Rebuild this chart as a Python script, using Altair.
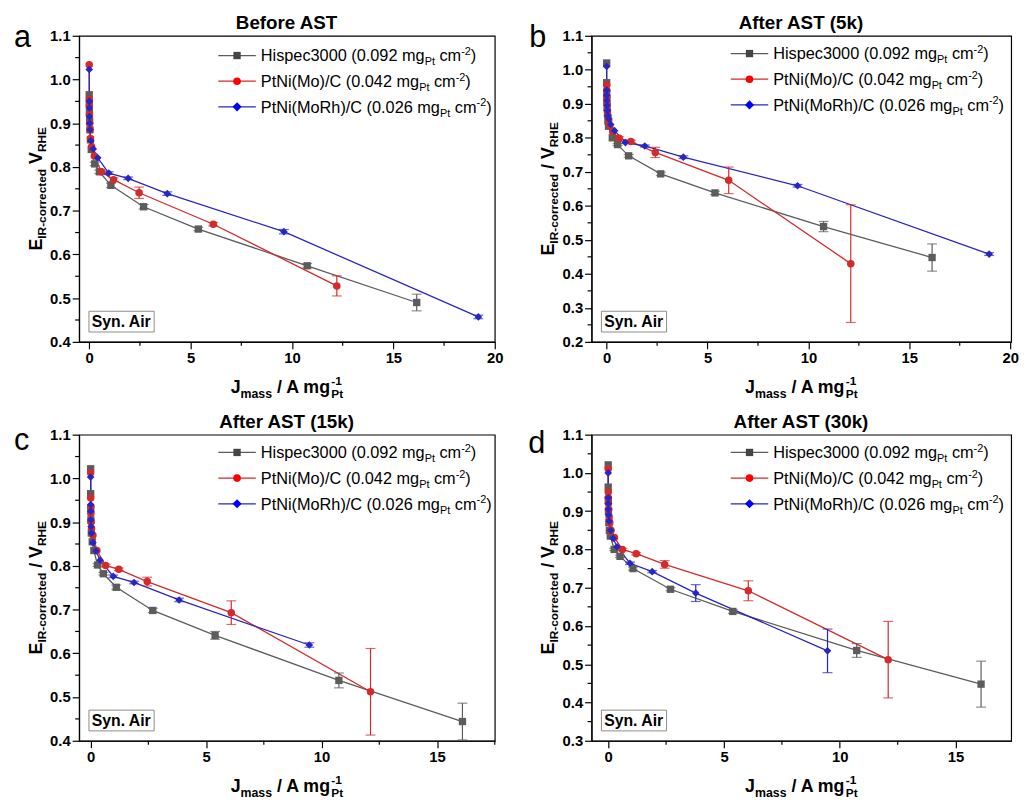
import altair as alt
import pandas as pd

FONT = "Liberation Sans"

# ---------------- data ----------------
SERIES = ["Hispec3000", "PtNi(Mo)/C", "PtNi(MoRh)/C"]
LOADINGS = ["0.092", "0.042", "0.026"]
MARKER_COLORS = ["#454545", "#ff0000", "#0000ff"]
LINE_COLORS = ["#5c5c5c", "#d42a2a", "#2626c4"]
ERR_COLORS = ["#4a4a4a", "#c83c3c", "#3c3cc8"]
SHAPES = ["square", "circle", "diamond"]
SIZES = [55, 60, 85]

PANEL_LETTERS = ["a", "b", "c", "d"]
PANEL_TITLES = ["Before AST", "After AST (5k)", "After AST (15k)", "After AST (30k)"]
Y_DOMAINS = [[0.4, 1.1], [0.2, 1.1], [0.4, 1.1], [0.3, 1.1]]
X_DOMAINS = [[-0.5, 20.0], [-0.75, 20.05], [-0.5, 17.5], [-0.72, 17.4]]
X_TICKS = [[0, 5, 10, 15, 20], [0, 5, 10, 15, 20], [0, 5, 10, 15], [0, 5, 10, 15]]
X_MINOR = [[2.5, 7.5, 12.5, 17.5], [2.5, 7.5, 12.5, 17.5], [2.5, 7.5, 12.5, 17.5], [2.5, 7.5, 12.5]]

# Panel a: Before AST
A_HIS_X = [0.0, 0.005, 0.01, 0.02, 0.035, 0.06, 0.1, 0.27, 0.5, 1.07, 2.68, 5.38, 10.75, 16.15]
A_HIS_Y = [0.965, 0.945, 0.925, 0.905, 0.885, 0.862, 0.840, 0.807, 0.789, 0.758, 0.709, 0.658, 0.574, 0.490]
A_HIS_E = [0, 0, 0, 0, 0, 0, 0, 0.004, 0.004, 0.005, 0.005, 0.004, 0.005, 0.019]
A_MO_X = [0.0, 0.003, 0.006, 0.01, 0.02, 0.035, 0.06, 0.12, 0.25, 0.6, 1.2, 2.46, 6.12, 12.21]
A_MO_Y = [1.034, 0.955, 0.94, 0.92, 0.90, 0.885, 0.865, 0.846, 0.825, 0.789, 0.771, 0.741, 0.669, 0.528]
A_MO_E = [0, 0, 0, 0, 0, 0, 0, 0, 0, 0.004, 0.004, 0.013, 0.004, 0.023]
A_RH_X = [0.0, 0.003, 0.006, 0.01, 0.02, 0.04, 0.08, 0.2, 0.42, 0.96, 1.92, 3.85, 9.6, 19.19]
A_RH_Y = [1.023, 0.95, 0.935, 0.915, 0.90, 0.885, 0.86, 0.841, 0.821, 0.786, 0.774, 0.739, 0.652, 0.457]
A_RH_E = [0, 0, 0, 0, 0, 0, 0, 0, 0, 0.003, 0.003, 0.004, 0.005, 0.004]

# Panel b: After AST (5k)
B_HIS_X = [0.0, 0.0, 0.005, 0.01, 0.02, 0.04, 0.06, 0.09, 0.28, 0.54, 1.09, 2.68, 5.37, 10.75, 16.13]
B_HIS_Y = [1.02, 0.962, 0.93, 0.91, 0.89, 0.87, 0.85, 0.834, 0.80, 0.780, 0.747, 0.694, 0.638, 0.539, 0.448]
B_HIS_E = [0, 0, 0, 0, 0, 0, 0, 0, 0, 0.003, 0.004, 0.005, 0.005, 0.015, 0.04]
B_MO_X = [0.0, 0.005, 0.01, 0.02, 0.035, 0.06, 0.1, 0.16, 0.3, 0.62, 1.2, 2.41, 6.05, 12.1]
B_MO_Y = [0.955, 0.94, 0.92, 0.90, 0.88, 0.865, 0.85, 0.835, 0.818, 0.799, 0.789, 0.757, 0.675, 0.43]
B_MO_E = [0, 0, 0, 0, 0, 0, 0, 0, 0, 0.004, 0.004, 0.015, 0.039, 0.173]
B_RH_X = [0.0, 0.003, 0.006, 0.01, 0.02, 0.035, 0.06, 0.11, 0.2, 0.39, 0.93, 1.89, 3.8, 9.46, 18.96]
B_RH_Y = [1.01, 0.94, 0.925, 0.91, 0.895, 0.88, 0.865, 0.856, 0.839, 0.821, 0.786, 0.776, 0.743, 0.659, 0.458]
B_RH_E = [0, 0, 0, 0, 0, 0, 0, 0, 0, 0, 0.003, 0.003, 0.004, 0.004, 0.004]

# Panel c: After AST (15k)
C_HIS_X = [0.0, 0.0, 0.005, 0.01, 0.03, 0.07, 0.14, 0.3, 0.55, 1.11, 2.69, 5.39, 10.75, 16.1]
C_HIS_Y = [1.022, 0.965, 0.93, 0.905, 0.875, 0.855, 0.835, 0.802, 0.782, 0.751, 0.698, 0.641, 0.538, 0.444]
C_HIS_E = [0, 0, 0, 0, 0, 0, 0, 0.003, 0.003, 0.005, 0.005, 0.009, 0.017, 0.042]
C_MO_X = [0.0, 0.003, 0.006, 0.01, 0.02, 0.04, 0.1, 0.27, 0.65, 1.22, 2.45, 6.09, 12.12]
C_MO_Y = [1.013, 0.955, 0.935, 0.92, 0.90, 0.885, 0.87, 0.835, 0.801, 0.792, 0.764, 0.693, 0.512]
C_MO_E = [0, 0, 0, 0, 0, 0, 0, 0, 0.003, 0.003, 0.01, 0.027, 0.099]
C_RH_X = [0.0, 0.003, 0.006, 0.01, 0.02, 0.04, 0.1, 0.23, 0.41, 0.98, 1.88, 3.83, 9.47]
C_RH_Y = [1.003, 0.94, 0.925, 0.905, 0.89, 0.875, 0.853, 0.834, 0.813, 0.776, 0.762, 0.722, 0.619]
C_RH_E = [0, 0, 0, 0, 0, 0, 0, 0, 0, 0.003, 0.003, 0.004, 0.005]

# Panel d: After AST (30k)
D_HIS_X = [0.0, 0.0, 0.005, 0.01, 0.03, 0.05, 0.09, 0.26, 0.51, 1.07, 2.69, 5.38, 10.73, 16.1]
D_HIS_Y = [1.021, 0.963, 0.93, 0.90, 0.87, 0.85, 0.835, 0.80, 0.782, 0.750, 0.696, 0.638, 0.536, 0.448]
D_HIS_E = [0, 0, 0, 0, 0, 0, 0, 0.003, 0.003, 0.004, 0.004, 0.005, 0.018, 0.06]
D_MO_X = [0.0, 0.003, 0.006, 0.01, 0.02, 0.04, 0.07, 0.12, 0.27, 0.61, 1.21, 2.44, 6.05, 12.09]
D_MO_Y = [1.01, 0.95, 0.935, 0.92, 0.905, 0.885, 0.87, 0.85, 0.831, 0.80, 0.789, 0.761, 0.692, 0.512]
D_MO_E = [0, 0, 0, 0, 0, 0, 0, 0, 0, 0.003, 0.003, 0.01, 0.026, 0.1]
D_RH_X = [0.0, 0.003, 0.006, 0.01, 0.02, 0.04, 0.11, 0.21, 0.38, 0.94, 1.9, 3.78, 9.47]
D_RH_Y = [1.0, 0.935, 0.92, 0.905, 0.89, 0.874, 0.85, 0.829, 0.807, 0.764, 0.742, 0.686, 0.535]
D_RH_E = [0, 0, 0, 0, 0, 0, 0, 0, 0, 0.003, 0.003, 0.022, 0.057]

PANEL_DATA = [
    [(A_HIS_X, A_HIS_Y, A_HIS_E), (A_MO_X, A_MO_Y, A_MO_E), (A_RH_X, A_RH_Y, A_RH_E)],
    [(B_HIS_X, B_HIS_Y, B_HIS_E), (B_MO_X, B_MO_Y, B_MO_E), (B_RH_X, B_RH_Y, B_RH_E)],
    [(C_HIS_X, C_HIS_Y, C_HIS_E), (C_MO_X, C_MO_Y, C_MO_E), (C_RH_X, C_RH_Y, C_RH_E)],
    [(D_HIS_X, D_HIS_Y, D_HIS_E), (D_MO_X, D_MO_Y, D_MO_E), (D_RH_X, D_RH_Y, D_RH_E)],
]

# ---------------- text metrics (Arial / Liberation Sans, 1/1000 em) ----------------
REG_W = {' ': 278, '(': 333, ')': 333, '-': 333, '.': 278, '/': 278, 'A': 667, 'C': 722, 'H': 722,
         'M': 833, 'N': 722, 'P': 667, 'R': 722, 'a': 556, 'b': 556, 'c': 500, 'd': 556, 'e': 556,
         'g': 556, 'h': 556, 'i': 222, 'm': 833, 'n': 556, 'o': 556, 'p': 556, 'r': 333, 's': 500, 't': 278}
BOLD_W = {' ': 278, '(': 333, ')': 333, '-': 333, '.': 278, '/': 278, 'A': 722, 'B': 722, 'E': 667,
          'H': 722, 'I': 278, 'J': 556, 'P': 667, 'R': 722, 'S': 667, 'T': 611, 'V': 667, 'a': 556,
          'c': 556, 'd': 611, 'e': 556, 'f': 333, 'g': 611, 'i': 278, 'k': 556, 'm': 889, 'n': 611,
          'o': 611, 'r': 389, 's': 556, 't': 333, 'y': 556}


def tw(t, size, bold):
    table = BOLD_W if bold else REG_W
    return sum(table.get(ch, 556) for ch in t) / 1000.0 * size


def rich(pieces, bold):
    """Lay out rich-text pieces; returns list of (text, size, along, shift) and total length."""
    out = []
    adv = 0.0
    for p in pieces:
        group = p[1] if p[0] == "STACK" else [p]
        widths = []
        for t, s, d in group:
            lead = len(t) - len(t.lstrip(" "))
            out.append((t.strip(" "), s, adv + tw(t[:lead], s, bold), d))
            widths.append(tw(t, s, bold))
        adv += max(widths)
    return out, adv


def panel(k, w, h):
    # ---- data table ----
    rows = []
    for s, (xs, ys, es) in enumerate(PANEL_DATA[k]):
        for i, (x, y, e) in enumerate(zip(xs, ys, es)):
            rows.append(dict(series=SERIES[s], x=x, y=y, e=e, lo=y - e, hi=y + e, i=i))
    df = pd.DataFrame(rows)

    xsc = alt.Scale(domain=X_DOMAINS[k], nice=False, zero=False)
    ysc = alt.Scale(domain=Y_DOMAINS[k], nice=False, zero=False)
    lo, hi = Y_DOMAINS[k]
    yt = [round(lo + 0.1 * j, 2) for j in range(int(round((hi - lo) / 0.1)) + 1)]
    ym = [round(v + 0.05, 3) for v in yt[:-1]]
    xax = alt.Axis(values=X_TICKS[k], title=None, format="d")
    yax = alt.Axis(values=yt, title=None, format=".1f")
    X = alt.X("x:Q", scale=xsc, axis=xax)
    Y = alt.Y("y:Q", scale=ysc, axis=yax)

    base = alt.Chart(df)
    lines = base.mark_line(strokeWidth=1.3).encode(
        x=X, y=Y,
        color=alt.Color("series:N", scale=alt.Scale(domain=SERIES, range=LINE_COLORS), legend=None),
        order=alt.Order("i:Q"),
    )
    err = base.transform_filter("datum.e > 0")
    ecol = alt.Color("series:N", scale=alt.Scale(domain=SERIES, range=ERR_COLORS), legend=None)
    ebar = err.mark_rule(strokeWidth=1.2).encode(
        x=X, y=alt.Y("lo:Q", scale=ysc, axis=yax), y2="hi:Q", color=ecol)
    ecap_lo = err.mark_tick(orient="horizontal", size=10, thickness=1.2).encode(
        x=X, y=alt.Y("lo:Q", scale=ysc, axis=yax), color=ecol)
    ecap_hi = err.mark_tick(orient="horizontal", size=10, thickness=1.2).encode(
        x=X, y=alt.Y("hi:Q", scale=ysc, axis=yax), color=ecol)
    pts = base.mark_point(filled=True, opacity=1, strokeWidth=0).encode(
        x=X, y=Y,
        color=alt.Color("series:N", scale=alt.Scale(domain=SERIES, range=MARKER_COLORS), legend=None),
        shape=alt.Shape("series:N", scale=alt.Scale(domain=SERIES, range=SHAPES), legend=None),
        size=alt.Size("series:N", scale=alt.Scale(domain=SERIES, range=SIZES), legend=None),
    )

    # ---- minor ticks (through the scales) ----
    xminor = [v for v in X_MINOR[k] if v <= X_DOMAINS[k][1]]
    mx = alt.Chart(pd.DataFrame({"x": xminor})).mark_rule(color="black", strokeWidth=1.2).encode(
        x=X, y=alt.value(h), y2=alt.value(h + 4))
    my = alt.Chart(pd.DataFrame({"y": ym})).mark_rule(color="black", strokeWidth=1.2).encode(
        y=Y, x=alt.value(0), x2=alt.value(-4))

    # ---- annotation text ----
    bold_rows = []
    reg_rows = []
    # title
    tt = PANEL_TITLES[k]
    bold_rows.append(dict(t=tt, fs=19, px=w / 2 - tw(tt, 19, True) / 2, py=-7))
    # x-axis title
    xt, L = rich([("J", 18, 0), ("mass", 12.5, 5), (" / A mg", 18, 0),
                  ("STACK", [("-1", 12, -8.5), ("Pt", 12, 5)])], True)
    x0 = w / 2 - L / 2
    for t, s, a, d in xt:
        bold_rows.append(dict(t=t, fs=s, px=x0 + a, py=h + 52 + d))
    # Syn. Air label
    bold_rows.append(dict(t="Syn. Air", fs=16, px=43 - tw("Syn. Air", 16, True) / 2, py=h - 15))
    # y-axis title (rotated)
    mid = " V" if k == 0 else " / V"
    yt_p, Ly = rich([("E", 18, 0), ("IR-corrected", 12, 4), (mid, 18, 0), ("RHE", 12, 4)], True)
    y0 = h / 2 + Ly / 2
    rot_rows = [dict(t=t, fs=s, px=-38 + d, py=y0 - a) for t, s, a, d in yt_p]
    # panel letter
    letter_pos = [(-66, 11), (-63, 11), (-66, 16), (-64, 19)][k]
    reg_rows.append(dict(t=PANEL_LETTERS[k], fs=31, px=letter_pos[0], py=letter_pos[1]))
    # legend
    ly0 = 20 if k == 0 else 18
    leg_line = []
    for s in range(3):
        ly = ly0 + 26 * s
        leg_line.append(dict(x1=141, x2=179, py=ly, c=LINE_COLORS[s], mc=MARKER_COLORS[s],
                             shape=SHAPES[s], sz=SIZES[s], px=160))
        pieces, _ = rich([(SERIES[s] + " (" + LOADINGS[s] + " mg", 16.5, 0), ("Pt", 11, 4),
                          (" cm", 16.5, 0), ("-2", 11, -6.5), (")", 16.5, 0)], False)
        for t, sz, a, d in pieces:
            reg_rows.append(dict(t=t, fs=sz, px=184 + a, py=ly + 6 + d))

    PX = alt.X("px:Q", scale=None, axis=None)
    PY = alt.Y("py:Q", scale=None, axis=None)
    FS = alt.Size("fs:Q", scale=None, legend=None)
    bold_txt = alt.Chart(pd.DataFrame(bold_rows)).mark_text(
        align="left", baseline="alphabetic", font=FONT, fontWeight="bold", color="black").encode(
        x=PX, y=PY, text="t:N", size=FS)
    reg_txt = alt.Chart(pd.DataFrame(reg_rows)).mark_text(
        align="left", baseline="alphabetic", font=FONT, fontWeight="normal", color="black").encode(
        x=PX, y=PY, text="t:N", size=FS)
    rot_txt = alt.Chart(pd.DataFrame(rot_rows)).mark_text(
        align="left", baseline="alphabetic", font=FONT, fontWeight="bold", color="black", angle=270).encode(
        x=PX, y=PY, text="t:N", size=FS)

    ldf = pd.DataFrame(leg_line)
    leg_rule = alt.Chart(ldf).mark_rule(strokeWidth=1.3).encode(
        x=alt.X("x1:Q", scale=None, axis=None), x2="x2:Q", y=PY,
        color=alt.Color("c:N", scale=None, legend=None))
    leg_pt = alt.Chart(ldf).mark_point(filled=True, opacity=1, strokeWidth=0).encode(
        x=PX, y=PY, color=alt.Color("mc:N", scale=None, legend=None),
        shape=alt.Shape("shape:N", scale=None, legend=None),
        size=alt.Size("sz:Q", scale=None, legend=None))

    box = alt.Chart(pd.DataFrame({"b": [1]})).mark_rect(
        fill="white", stroke="#8a8a8a", strokeWidth=1).encode(
        x=alt.value(10), x2=alt.value(76), y=alt.value(h - 31), y2=alt.value(h - 10))

    return alt.layer(lines, ebar, ecap_lo, ecap_hi, pts, mx, my, box, bold_txt, reg_txt, rot_txt,
                     leg_rule, leg_pt).properties(width=w, height=h)


panels = [panel(0, 421, 310), panel(1, 425, 310), panel(2, 421, 310), panel(3, 425, 310)]

chart = alt.concat(
    *panels, columns=2, spacing={"row": 94, "column": 98}, bounds="flush", align="each"
).configure_view(
    stroke="black", strokeWidth=1.2
).configure_axis(
    domainColor="black", domainWidth=1.2, tickColor="black", tickWidth=1.2, tickSize=7,
    labelFont=FONT, labelFontSize=15, labelFontWeight="bold", labelColor="black",
    grid=False, labelPadding=2, labelFlush=False, labelOverlap=False
).properties(
    padding={"left": 5, "top": 0, "right": 5, "bottom": 5},
    background="white",
)

chart.save("out.html", embed_options={"renderer": "svg", "actions": False})
